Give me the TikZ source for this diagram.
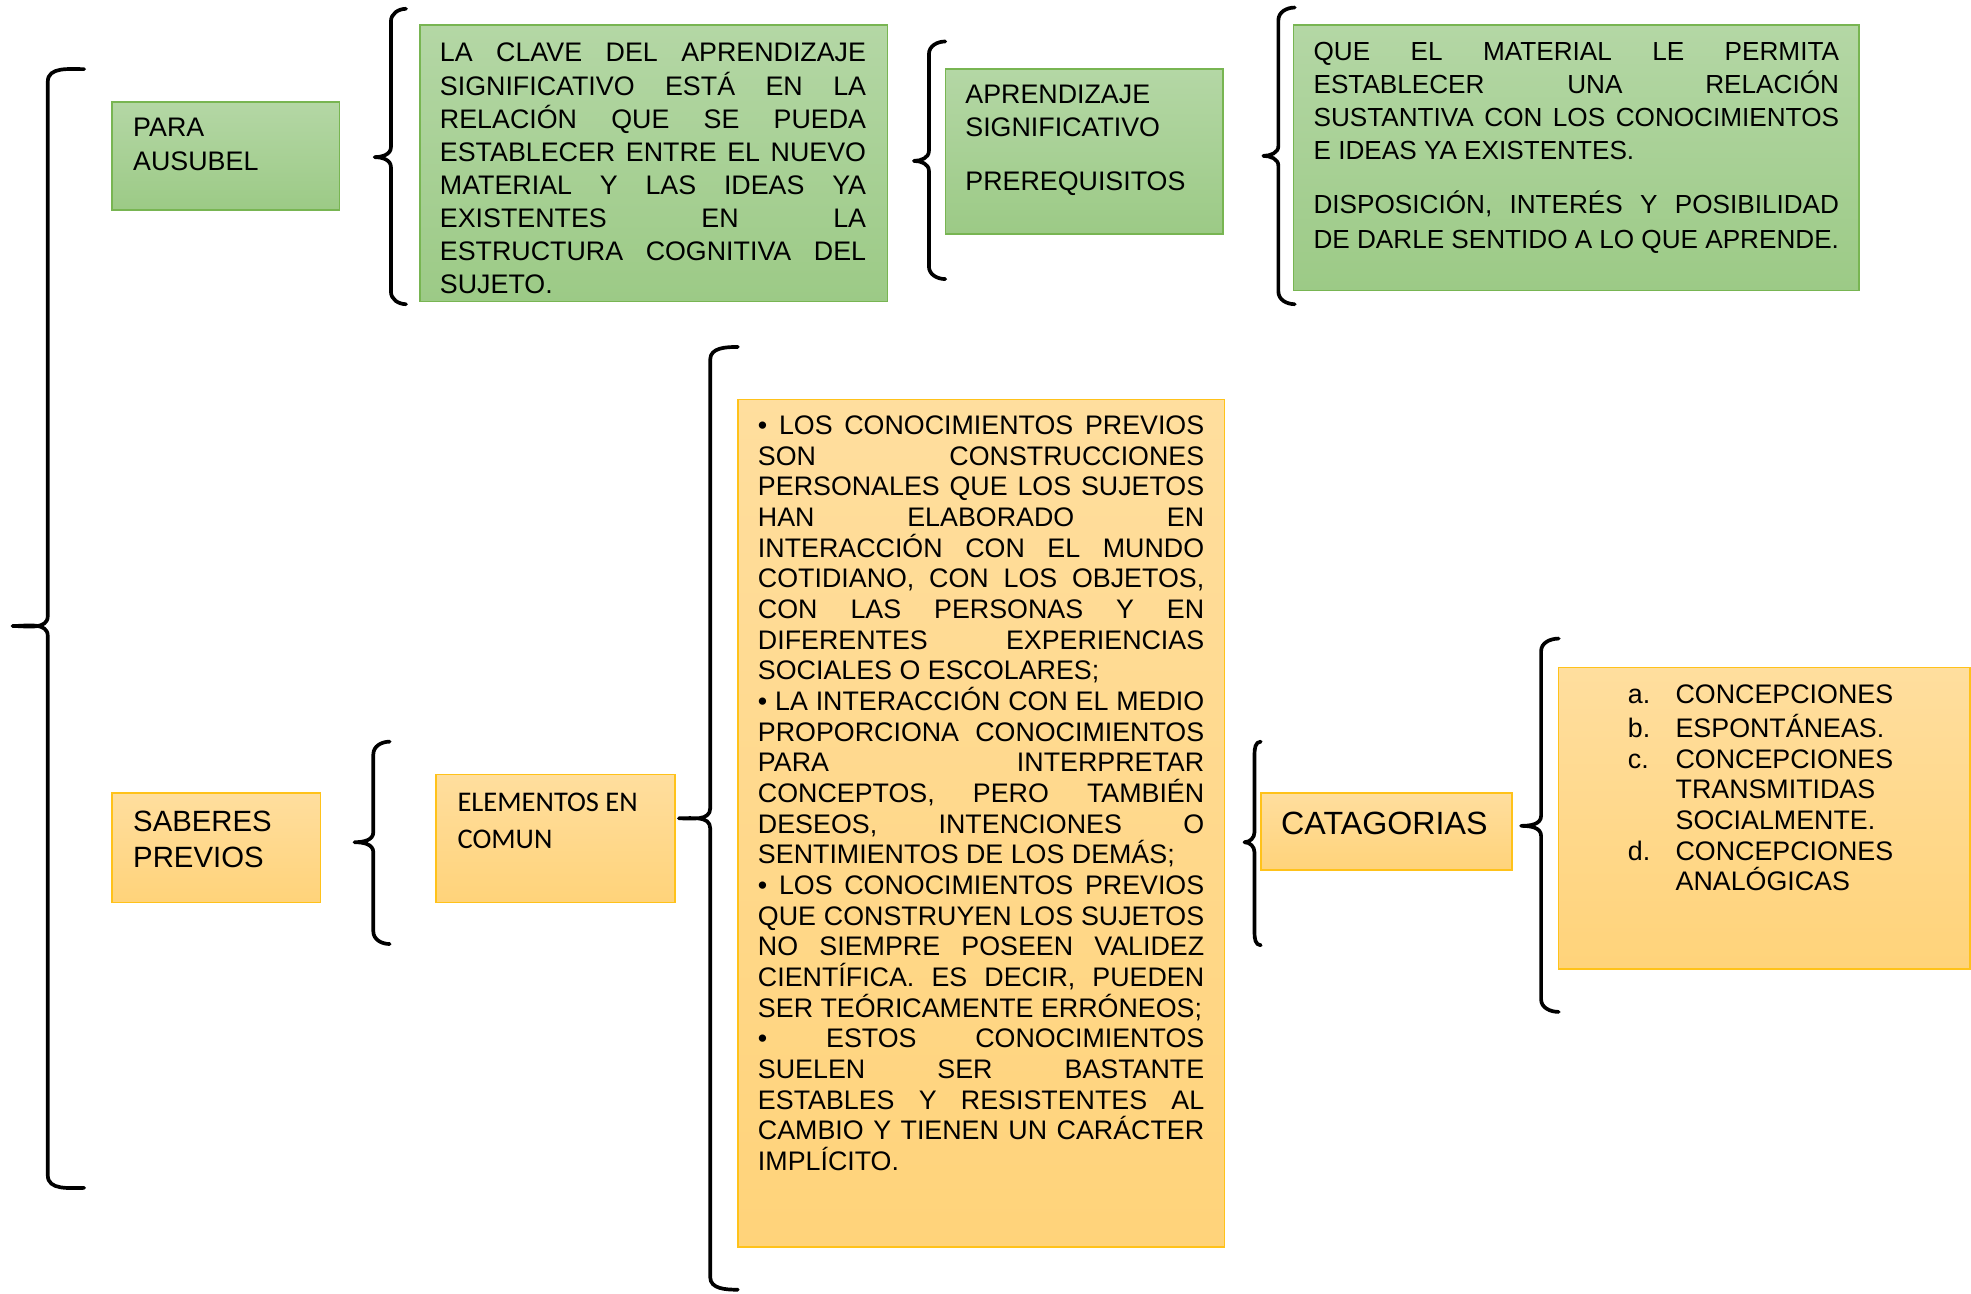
\documentclass[tikz,border=0pt]{standalone}
\usepackage{fontspec}
\setmainfont{Liberation Sans}
\newfontfamily\calib{Carlito}
\usetikzlibrary{fit}
\definecolor{gtop}{HTML}{B4D7A5}
\definecolor{gbot}{HTML}{9CCA86}
\definecolor{gline}{HTML}{78B552}
\definecolor{otop}{HTML}{FFDE9E}
\definecolor{obot}{HTML}{FFD37A}
\definecolor{oline}{HTML}{FFC21A}
\newcommand\natsp{\spaceskip=0pt\xspaceskip=0pt\relax}
\newcommand\jl[1]{\makebox[\hsize][s]{\natsp #1}}
\newcommand\mybrace[6]{% xv, xe, xt, top, tip, bot
  \draw[bracestyle] (#2,#4) to[out=180,in=90] (#1,#4+10) -- (#1,#5-8)
    to[out=270,in=0] (#3,#5) to[out=0,in=90] (#1,#5+8) -- (#1,#6-10)
    to[out=270,in=180] (#2,#6);}
\tikzset{
  greenbox/.style={inner sep=0pt, outer sep=0pt, top color=gtop, bottom color=gbot, draw=gline, line width=0.9pt},
  orangebox/.style={inner sep=0pt, outer sep=0pt, top color=otop, bottom color=obot, draw=oline, line width=0.9pt},
  bracestyle/.style={line width=2.2pt, line cap=round, line join=round},
  txt/.style={anchor=north west, inner sep=0pt, outer sep=0pt, align=left}
}
\begin{document}
\begin{tikzpicture}[x=0.75pt,y=-0.75pt]
\fill[white] (0,0) rectangle (1568,1029);
\useasboundingbox (0,0) rectangle (1568,1029);

% boxes
\node[greenbox, fit={(89,81) (270,167)}] (ausubel) {};
\node[greenbox, fit={(334,20) (706,240)}] (clave) {};
\node[greenbox, fit={(752,55) (973,186)}] (aprend) {};
\node[greenbox, fit={(1029,20) (1479,231)}] (material) {};
\node[orangebox, fit={(89,631) (255,718)}] (saberes) {};
\node[orangebox, fit={(347,616) (537,718)}] (elementos) {};
\node[orangebox, fit={(587,318) (974,992)}] (conoc) {};
\node[orangebox, fit={(1003,631) (1203,692)}] (catag) {};
\node[orangebox, fit={(1240,531) (1567,771)}] (lista) {};

% braces
\mybrace{38}{67}{10}{55}{498}{945}
\mybrace{311}{323}{298}{7}{125}{242}
\mybrace{739}{752}{727}{33}{128}{222}
\mybrace{1017}{1030}{1005}{6}{124}{242}
\mybrace{297}{310}{282}{590}{670}{751}
\mybrace{565}{587}{540}{276}{651}{1026}
\mybrace{998}{1003}{990}{590}{670}{752}
\mybrace{1226}{1240}{1210}{508}{657}{805}

% texts
\node[txt, text width=140pt, font=\fontsize{16}{20.25}\selectfont] (tausubel) at (106,89.7)
  {\natsp\strut PARA\\AUSUBEL};

\node[txt, text width=254.25pt, font=\fontsize{16}{19.65}\selectfont] (tclave) at (350,30.3)
  {\natsp\strut\jl{LA CLAVE DEL APRENDIZAJE}\\
   \jl{SIGNIFICATIVO ESTÁ EN LA}\\
   \jl{RELACIÓN QUE SE PUEDA}\\
   \jl{ESTABLECER ENTRE EL NUEVO}\\
   \jl{MATERIAL Y LAS IDEAS YA}\\
   \jl{EXISTENTES EN LA}\\
   \jl{ESTRUCTURA COGNITIVA DEL}\\
   SUJETO.};

\node[txt, text width=150pt, font=\fontsize{16}{19.5}\selectfont] (taprend) at (768,64.4)
  {\natsp\strut APRENDIZAJE\\SIGNIFICATIVO\\[12.75pt]PREREQUISITOS};

\node[txt, text width=313.5pt, font=\fontsize{15.6}{19.5}\selectfont] (tmaterial) at (1045,30.3)
  {\natsp\strut\jl{QUE EL MATERIAL LE PERMITA}\\
   \jl{ESTABLECER UNA RELACIÓN}\\
   \jl{SUSTANTIVA CON LOS CONOCIMIENTOS}\\
   E IDEAS YA EXISTENTES.\\[12.75pt]
   \jl{DISPOSICIÓN, INTERÉS Y POSIBILIDAD}\\[1.5pt]
   \jl{DE DARLE SENTIDO A LO QUE APRENDE.}};

\node[txt, text width=120pt, font=\fontsize{17.5}{21.75}\selectfont] (tsaberes) at (106,641.1)
  {\natsp\strut SABERES\\PREVIOS};

\node[txt, text width=130pt, font=\calib\fontsize{17}{21.75}\selectfont] (telementos) at (364,625.5)
  {\natsp\strut ELEMENTOS EN\\COMUN};

\node[txt, text width=266.25pt, font=\fontsize{16}{18.3}\selectfont] (tconoc) at (603,328.5)
  {\natsp\strut\jl{• LOS CONOCIMIENTOS PREVIOS}\\
   \jl{SON CONSTRUCCIONES}\\
   \jl{PERSONALES QUE LOS SUJETOS}\\
   \jl{HAN ELABORADO EN}\\
   \jl{INTERACCIÓN CON EL MUNDO}\\
   \jl{COTIDIANO, CON LOS OBJETOS,}\\
   \jl{CON LAS PERSONAS Y EN}\\
   \jl{DIFERENTES EXPERIENCIAS}\\
   \mbox{SOCIALES O ESCOLARES;}\\
   \jl{• LA INTERACCIÓN CON EL MEDIO}\\
   \jl{PROPORCIONA CONOCIMIENTOS}\\
   \jl{PARA INTERPRETAR}\\
   \jl{CONCEPTOS, PERO TAMBIÉN}\\
   \jl{DESEOS, INTENCIONES O}\\
   \mbox{SENTIMIENTOS DE LOS DEMÁS;}\\
   \jl{• LOS CONOCIMIENTOS PREVIOS}\\
   \jl{QUE CONSTRUYEN LOS SUJETOS}\\
   \jl{NO SIEMPRE POSEEN VALIDEZ}\\
   \jl{CIENTÍFICA. ES DECIR, PUEDEN}\\
   \mbox{SER TEÓRICAMENTE ERRÓNEOS;}\\
   \jl{• ESTOS CONOCIMIENTOS}\\
   \jl{SUELEN SER BASTANTE}\\
   \jl{ESTABLES Y RESISTENTES AL}\\
   \jl{CAMBIO Y TIENEN UN CARÁCTER}\\
   IMPLÍCITO.};

\node[anchor=base west, inner sep=0pt, font=\fontsize{19.2}{23}\selectfont] (tcatag) at (1019,664)
  {CATAGORIAS};

\node[txt, text width=200pt, font=\fontsize{16}{18.3}\selectfont] (tlista) at (1295,542.5)
  {\natsp\strut\makebox[28.5pt][l]{a.}CONCEPCIONES\\
   \makebox[28.5pt][l]{b.}ESPONTÁNEAS.\\
   \makebox[28.5pt][l]{c.}CONCEPCIONES\\
   \hspace*{28.5pt}TRANSMITIDAS\\
   \hspace*{28.5pt}SOCIALMENTE.\\
   \makebox[28.5pt][l]{d.}CONCEPCIONES\\
   \hspace*{28.5pt}ANALÓGICAS};
\end{tikzpicture}
\end{document}
